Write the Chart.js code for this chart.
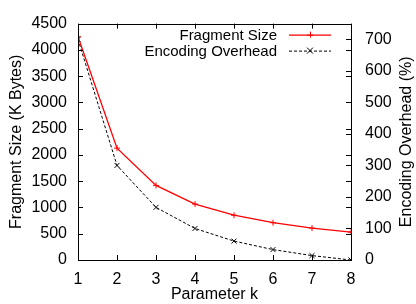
<!DOCTYPE html>
<html><head><meta charset="utf-8">
<script src="https://cdn.jsdelivr.net/npm/chart.js@4/dist/chart.umd.min.js"></script>
<style>html,body{margin:0;padding:0;background:#fff}#wrap{width:416px;height:304px}</style>
</head><body><div id="wrap"><canvas id="c" width="416" height="304"></canvas></div>
<script>
const kValues = [1, 2, 3, 4, 5, 6, 7, 8];
const fragmentSize = [4250, 2130, 1420, 1065, 852, 710, 607, 532];
const encodingOverhead = [700, 300, 167, 100, 60, 33, 14, 0];
const leftTicks = [0, 500, 1000, 1500, 2000, 2500, 3000, 3500, 4000, 4500];
const rightTicks = [0, 100, 200, 300, 400, 500, 600, 700];

const FONT = 'Liberation Sans, Arial, sans-serif';
const FS = 16;
const LFS = 15;

const frameTicks = {
  id: 'frameTicks',
  afterDatasetsDraw(chart) {
    const ctx = chart.ctx, a = chart.chartArea;
    const x = chart.scales.x, yl = chart.scales.y, yr = chart.scales.y2;
    ctx.save();
    ctx.strokeStyle = '#000'; ctx.lineWidth = 1;
    ctx.strokeRect(Math.round(a.left) + 0.5, Math.round(a.top) + 0.5, Math.round(a.right - a.left), Math.round(a.bottom - a.top));
    const L = 5;
    ctx.beginPath();
    kValues.forEach(v => {
      const px = Math.round(x.getPixelForValue(v)) + 0.5;
      ctx.moveTo(px, a.bottom); ctx.lineTo(px, a.bottom - L);
      ctx.moveTo(px, a.top); ctx.lineTo(px, a.top + L);
    });
    leftTicks.forEach(v => {
      const py = Math.round(yl.getPixelForValue(v)) + 0.5;
      ctx.moveTo(a.left, py); ctx.lineTo(a.left + L, py);
      ctx.moveTo(a.right, py); ctx.lineTo(a.right - L, py);
    });
    rightTicks.forEach(v => {
      const py = Math.round(yr.getPixelForValue(v)) + 0.5;
      ctx.moveTo(a.right, py); ctx.lineTo(a.right - L, py);
    });
    ctx.stroke();
    // right axis title, reading bottom-to-top
    ctx.save();
    ctx.font = FS + 'px ' + FONT;
    ctx.fillStyle = '#000'; ctx.textAlign = 'center'; ctx.textBaseline = 'middle';
    ctx.translate(407, (a.top + a.bottom) / 2);
    ctx.rotate(-Math.PI / 2);
    ctx.fillText(yr.options.title.text, 0, 0);
    ctx.restore();
    // legend (gnuplot style: text right-aligned, sample line on right)
    ctx.font = LFS + 'px ' + FONT;
    ctx.textAlign = 'right'; ctx.textBaseline = 'middle'; ctx.fillStyle = '#000';
    chart.data.datasets.forEach((ds, i) => {
      const y = a.top + 11 + i * 16;
      const x0 = a.right - 62, x1 = a.right - 20;
      ctx.fillText(ds.label, x0 - 12, y + 1);
      ctx.beginPath();
      ctx.strokeStyle = ds.borderColor; ctx.lineWidth = ds.borderWidth;
      ctx.setLineDash(ds.borderDash || []);
      ctx.moveTo(x0, y + 0.5); ctx.lineTo(x1, y + 0.5); ctx.stroke();
      ctx.setLineDash([]);
      const xm = (x0 + x1) / 2, r = 3;
      ctx.beginPath(); ctx.lineWidth = 1;
      if (ds.pointStyle === 'cross') {
        ctx.moveTo(xm - r, y + 0.5); ctx.lineTo(xm + r, y + 0.5);
        ctx.moveTo(xm + 0.5, y - r); ctx.lineTo(xm + 0.5, y + r);
      } else {
        ctx.moveTo(xm - r, y - r); ctx.lineTo(xm + r, y + r);
        ctx.moveTo(xm - r, y + r); ctx.lineTo(xm + r, y - r);
      }
      ctx.stroke();
    });
    ctx.restore();
  }
};

new Chart(document.getElementById('c'), {
  type: 'line',
  data: {
    datasets: [
      {
        label: 'Fragment Size',
        data: kValues.map((k, i) => ({x: k, y: fragmentSize[i]})),
        yAxisID: 'y',
        borderColor: '#ff0000', backgroundColor: '#ff0000',
        borderWidth: 1.3, pointStyle: 'cross', pointRadius: 3, pointBorderWidth: 1,
        fill: false, tension: 0
      },
      {
        label: 'Encoding Overhead',
        data: kValues.map((k, i) => ({x: k, y: encodingOverhead[i]})),
        yAxisID: 'y2',
        borderColor: '#000000', backgroundColor: '#000000',
        borderWidth: 1, borderDash: [3, 2], pointStyle: 'crossRot', pointRadius: 3.5, pointBorderWidth: 1,
        fill: false, tension: 0
      }
    ]
  },
  options: {
    responsive: false, animation: false, devicePixelRatio: 1,
    layout: {padding: {top: 12, left: 0, right: 0, bottom: 0}},
    plugins: {legend: {display: false}, tooltip: {enabled: false}},
    scales: {
      x: {
        type: 'linear', min: 1, max: 8,
        afterBuildTicks: s => { s.ticks = kValues.map(v => ({value: v})); },
        afterFit: s => { s.height = 44; },
        grid: {display: false, drawTicks: false},
        border: {display: false},
        ticks: {color: '#000', font: {family: FONT, size: FS}, padding: 10, maxRotation: 0, callback: v => String(v)},
        title: {display: true, text: 'Parameter k', color: '#000', font: {family: FONT, size: FS}, padding: {top: 0, bottom: 0}}
      },
      y: {
        type: 'linear', position: 'left', min: 0, max: 4500,
        afterBuildTicks: s => { s.ticks = leftTicks.map(v => ({value: v})); },
        afterFit: s => { s.width = 78; },
        grid: {display: false, drawTicks: false},
        border: {display: false},
        ticks: {color: '#000', font: {family: FONT, size: FS}, padding: 11, callback: v => String(v)},
        title: {display: true, text: 'Fragment Size (K Bytes)', color: '#000', font: {family: FONT, size: FS}, padding: {top: 7, bottom: 0}}
      },
      y2: {
        type: 'linear', position: 'right', min: 0, max: 750,
        afterBuildTicks: s => { s.ticks = rightTicks.map(v => ({value: v})); },
        afterFit: s => { s.width = 65; },
        grid: {display: false, drawTicks: false},
        border: {display: false},
        ticks: {color: '#000', font: {family: FONT, size: FS}, padding: 14, callback: v => String(v)},
        title: {display: false, text: 'Encoding Overhead (%)', color: '#000', font: {family: FONT, size: FS}}
      }
    }
  },
  plugins: [frameTicks]
});
</script></body></html>
